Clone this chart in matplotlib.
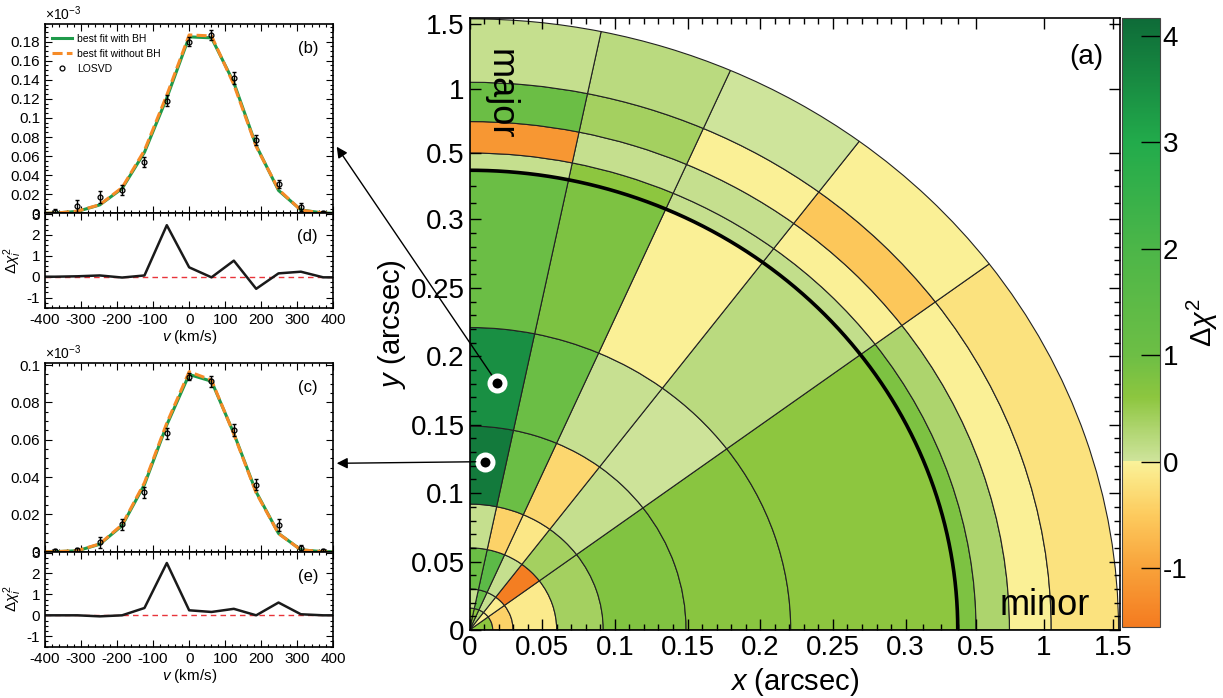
import numpy as np
import matplotlib.pyplot as plt
from matplotlib.patches import Wedge, ConnectionPatch
from matplotlib.colors import ListedColormap, Normalize, to_rgb
from matplotlib.cm import ScalarMappable
from matplotlib.ticker import FixedLocator, MultipleLocator, FormatStrFormatter

plt.rcParams['font.family'] = ['Liberation Sans', 'DejaVu Sans']
plt.rcParams['mathtext.fontset'] = 'custom'
plt.rcParams['mathtext.rm'] = 'Liberation Sans'
plt.rcParams['mathtext.it'] = 'Liberation Sans:italic'
plt.rcParams['mathtext.bf'] = 'Liberation Sans:bold'
plt.rcParams['axes.unicode_minus'] = False

W, H = 1223, 698

# ---- data: polar bins of the delta chi^2 map (a) ----
ring_edges = [0, 0.016, 0.03, 0.06, 0.092, 0.149, 0.221, 0.448, 0.5, 0.747, 1.054, 1.535]
pa_edges = [0, 36.8, 53.1, 66.3, 78.3, 90]
dchi2 = [
    [0.6, -0.05, 0.3, 0.6, 0.6],
    [-0.4, -0.08, 0.1, 1.2, 0.1],
    [-0.1, -1.5, 0.1, 1.5, 1.05],
    [0.4, 0.4, -0.15, -0.4, 0.1],
    [0.75, 0.1, -0.35, 1.05, 3.9],
    [0.65, 0.02, 0.07, 1.05, 3.5],
    [0.6, 0.2, -0.02, 0.8, 1.05],
    [0.8, 0.12, 0.1, 0.6, 0.1],
    [0.32, -0.02, 0.1, 0.1, -1.15],
    [-0.03, -0.55, -0.02, 0.4, 1.05],
    [-0.22, -0.03, 0.01, 0.2, 0.1],
]
circle_r = 0.448
marker_x = [0.019, 0.011]
marker_y = [0.1805, 0.123]
tick_r = [0, 0.05, 0.1, 0.15, 0.2, 0.25, 0.3, 0.5, 1, 1.5]
tick_lab = ['0', '0.05', '0.1', '0.15', '0.2', '0.25', '0.3', '0.5', '1', '1.5']

# stretched radial axis
r_knots = [0, 0.3, 0.5, 1.0, 1.5, 1.6]
d_knots = [0, 6.0, 6.97, 7.9, 8.86, 9.06]
def rmap(r):
    return np.interp(r, r_knots, d_knots)

# ---- data: LOSVD panels ----
v_obs = [-372, -310, -248, -186, -124, -62, 0, 62, 124, 186, 248, 310, 372]
v_mod = [-400, -372, -310, -248, -186, -124, -62, 0, 62, 124, 186, 248, 310, 372, 400]

b_obs = [0.001, 0.0077, 0.017, 0.0245, 0.054, 0.118, 0.18, 0.187, 0.142, 0.077, 0.031, 0.0063, 0.0007]
b_err = [0.003, 0.006, 0.006, 0.005, 0.005, 0.006, 0.005, 0.005, 0.006, 0.005, 0.004, 0.004, 0.002]
b_bh = [0, 0.0002, 0.002, 0.0088, 0.026, 0.064, 0.121, 0.185, 0.184, 0.137, 0.071, 0.024, 0.0035, 0.0003, 0]
b_nobh = [0, 0.0002, 0.0023, 0.009, 0.027, 0.066, 0.124, 0.187, 0.186, 0.135, 0.070, 0.025, 0.0033, 0.0003, 0]
d_res = [0, 0, 0.02, 0.06, -0.04, 0.06, 2.47, 0.45, -0.03, 0.77, -0.58, 0.16, 0.24, -0.03, -0.03]

c_obs = [0.0002, 0.0009, 0.005, 0.0146, 0.0318, 0.0634, 0.0938, 0.0914, 0.0652, 0.036, 0.0143, 0.0018, 0.0002]
c_err = [0.001, 0.001, 0.003, 0.003, 0.003, 0.003, 0.002, 0.003, 0.003, 0.003, 0.003, 0.002, 0.001]
c_bh = [0, 0, 0.0005, 0.004, 0.014, 0.036, 0.068, 0.095, 0.0914, 0.0634, 0.032, 0.0098, 0.001, 0, 0]
c_nobh = [0, 0, 0.0006, 0.0042, 0.0145, 0.037, 0.069, 0.0965, 0.092, 0.063, 0.0315, 0.0097, 0.001, 0, 0]
e_res = [0, 0, 0.0, -0.05, 0.0, 0.35, 2.5, 0.24, 0.16, 0.31, 0.0, 0.61, 0.05, 0.0, 0]

# ---- colour map: yellow/orange below 0, greens above ----
vmin, vmax = -1.55, 4.17
neg_v = [-1.55, -1.0, -0.5, -0.2, 0.0]
neg_c = ['#f47b20', '#f8a23a', '#fdcb5e', '#fbe380', '#faf29a']
pos_v = [0.0, 0.3, 0.6, 1.0, 2.0, 3.0, 4.17]
pos_c = ['#cfe49c', '#afd570', '#8dc63f', '#6dbe45', '#4cb648', '#22ab4b', '#0e6b38']
grid = np.linspace(vmin, vmax, 512)
rgb = np.zeros((512, 3))
for k in range(3):
    neg = np.interp(grid, neg_v, [to_rgb(c)[k] for c in neg_c])
    pos = np.interp(grid, pos_v, [to_rgb(c)[k] for c in pos_c])
    rgb[:, k] = np.where(grid < 0, neg, pos)
cmap = ListedColormap(rgb)
norm = Normalize(vmin, vmax)

fig = plt.figure(figsize=(W / 100, H / 100), dpi=100)

def frac(left, top, right, bottom):
    return [left / W, 1 - bottom / H, (right - left) / W, (bottom - top) / H]

# ---- main map ----
ax = fig.add_axes(frac(469.5, 17.5, 1120, 630))
for i in range(len(ring_edges) - 1):
    r0, r1 = rmap(ring_edges[i]), rmap(ring_edges[i + 1])
    for j in range(len(pa_edges) - 1):
        ax.add_patch(Wedge((0, 0), r1, pa_edges[j], pa_edges[j + 1], width=r1 - r0,
                           facecolor=cmap(norm(dchi2[i][j])), edgecolor='#222222', lw=0.8))
th = np.linspace(0, np.pi / 2, 300)
ax.plot(rmap(circle_r) * np.cos(th), rmap(circle_r) * np.sin(th), color='k', lw=2.6, zorder=4)

mr = rmap(np.hypot(marker_x, marker_y))
mt = np.arctan2(marker_y, marker_x)
mdx, mdy = mr * np.cos(mt), mr * np.sin(mt)
ax.plot(mdx, mdy, 'o', ms=10.8, mfc='k', mec='w', mew=3.6, ls='none', zorder=6)

ax.set_xlim(0, 8.95)
ax.set_ylim(0, 8.95)
minor_r = np.r_[np.arange(0.01, 0.3, 0.01), [0.35, 0.4, 0.45]]
for axis in (ax.xaxis, ax.yaxis):
    axis.set_major_locator(FixedLocator(rmap(tick_r)))
    axis.set_minor_locator(FixedLocator(rmap(minor_r)))
ax.set_xticklabels(tick_lab)
ax.set_yticklabels(tick_lab)
ax.tick_params(which='both', direction='in', top=True, right=True, labelsize=20, width=1)
ax.tick_params(which='major', length=8)
ax.tick_params(which='minor', length=4)
for s in ax.spines.values():
    s.set_linewidth(1.2)
ax.set_xlabel(r'$x$ (arcsec)', fontsize=21, labelpad=4)
ax.set_ylabel(r'$y$ (arcsec)', fontsize=21, labelpad=2)
ax.text(0.975, 0.935, '(a)', transform=ax.transAxes, ha='right', va='center', fontsize=20)
ax.text(0.047, 0.875, 'major', transform=ax.transAxes, ha='center', va='center',
        rotation=-90, fontsize=26)
ax.text(0.885, 0.04, 'minor', transform=ax.transAxes, ha='center', va='center', fontsize=26)

# ---- colour bar ----
cax = fig.add_axes(frac(1122, 17.8, 1160, 626.7))
sm = ScalarMappable(norm=norm, cmap=cmap)
cb = fig.colorbar(sm, cax=cax)
cb.set_ticks([-1, 0, 1, 2, 3, 4])
cax.tick_params(direction='in', length=14, width=1, labelsize=20, pad=2)
cb.outline.set_linewidth(0.8)
cb.outline.set_edgecolor('#444444')
cb.set_label(r'$\Delta\chi^2$', fontsize=21, labelpad=-2)

# ---- LOSVD panels ----
green, orange = '#1f9a4a', '#f68b27'

def style(a, ymajor, yminor):
    a.set_xlim(-400, 400)
    a.xaxis.set_major_locator(MultipleLocator(100))
    a.xaxis.set_minor_locator(MultipleLocator(20))
    a.yaxis.set_major_locator(MultipleLocator(ymajor))
    a.yaxis.set_minor_locator(MultipleLocator(yminor))
    a.yaxis.set_major_formatter(FormatStrFormatter('%g'))
    a.tick_params(which='both', direction='in', top=True, right=True, labelsize=11, width=0.8)
    a.tick_params(which='major', length=5)
    a.tick_params(which='minor', length=2.5)
    for s in a.spines.values():
        s.set_linewidth(1.2)

def losvd(box, obs, err, m1, m2, ytop, tag, tag_y, legend):
    a = fig.add_axes(frac(*box))
    a.plot(v_mod, m1, color=green, lw=2.2, label='best fit with BH')
    a.plot(v_mod, m2, color=orange, lw=2.2, ls=(0, (3.3, 1.4)), label='best fit without BH')
    a.errorbar(v_obs, obs, yerr=err, fmt='none', ecolor='k', elinewidth=1, capsize=1.2, zorder=5)
    a.plot(v_obs, obs, 'o', ms=3.5, mfc='none', mec='k', mew=0.9, ls='none', label='LOSVD',
           zorder=6)
    a.set_ylim(0, ytop)
    style(a, 0.02, 0.005)
    a.tick_params(labelbottom=False)
    a.text(0.0, 1.005, r'$\times$10$^{-3}$', transform=a.transAxes, ha='left', va='bottom',
           fontsize=10)
    a.text(0.947, tag_y, tag, transform=a.transAxes, ha='right', va='center', fontsize=12)
    if legend:
        a.legend(loc='upper left', bbox_to_anchor=(0.0, 0.985), frameon=False, fontsize=7.5,
                 handlelength=1.9, handletextpad=0.5, labelspacing=0.45, borderaxespad=0.3)
    return a

def resid(box, res, tag, tag_y):
    a = fig.add_axes(frac(*box))
    a.axhline(0, color='#e8343a', lw=1, ls=(0, (4, 3)))
    a.plot(v_mod, res, color='#1a1a1a', lw=1.8)
    a.set_ylim(-1.5, 3.04)
    style(a, 1, 0.25)
    a.set_ylabel(r'$\Delta\chi_i^2$', fontsize=11, labelpad=2)
    a.set_xlabel(r'$v$ (km/s)', fontsize=11, labelpad=1)
    a.text(0.947, tag_y, tag, transform=a.transAxes, ha='right', va='center', fontsize=12)
    return a

ab = losvd((45, 24, 333.3, 213.3), b_obs, b_err, b_bh, b_nobh, 0.1985, '(b)', 0.873, True)
ad = resid((45, 213.3, 333.3, 308), d_res, '(d)', 0.75)
ac = losvd((45, 363.3, 333.3, 551.7), c_obs, c_err, c_bh, c_nobh, 0.101, '(c)', 0.869, False)
ae = resid((45, 551.7, 333.3, 646.7), e_res, '(e)', 0.734)

# ---- arrows from the marked bins to the panels ----
targets = [(336.7, 146.7), (336.7, 463.3)]
for k in range(2):
    con = ConnectionPatch(xyA=(mdx[k], mdy[k]), coordsA=ax.transData,
                          xyB=(targets[k][0] / W, 1 - targets[k][1] / H), coordsB=fig.transFigure,
                          arrowstyle='-|>', mutation_scale=16, lw=1, color='k',
                          shrinkA=7, shrinkB=0)
    fig.add_artist(con)

fig.savefig('out.png', dpi=100)
